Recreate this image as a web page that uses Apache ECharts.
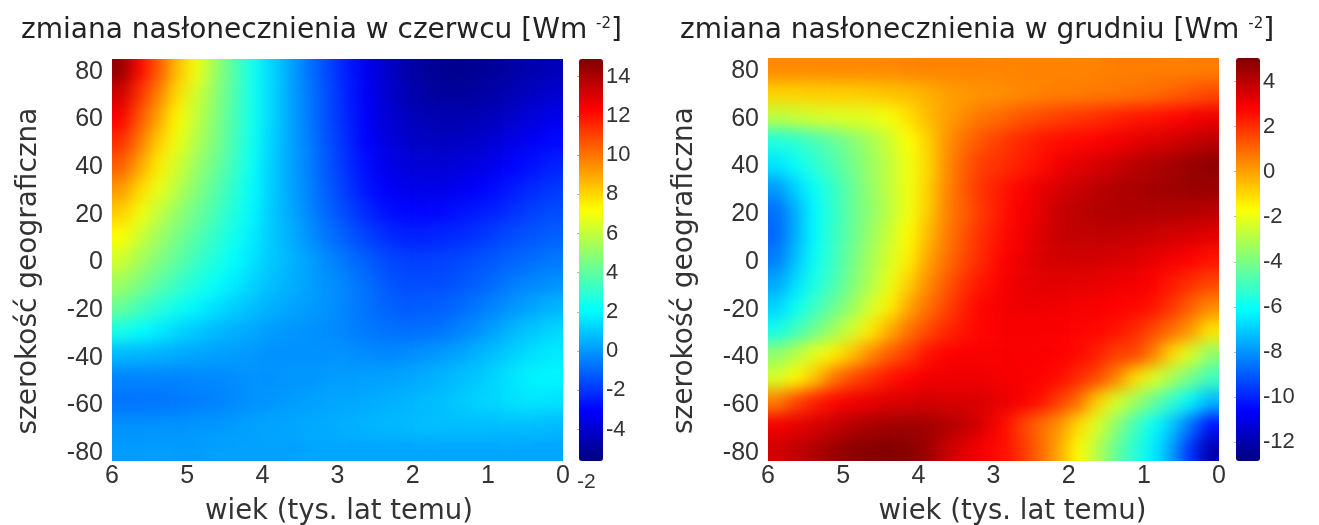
<!DOCTYPE html>
<html><head><meta charset="utf-8">
<style>html,body{margin:0;padding:0;background:#fff}#c{width:1319px;height:525px}</style>
<script src="https://cdn.jsdelivr.net/npm/echarts@6/dist/echarts.min.js"></script>
</head><body><div id="c"></div>
<script>
const titleJune = 'zmiana nasłonecznienia w czerwcu [Wm ';
const titleDec = 'zmiana nasłonecznienia w grudniu [Wm ';
const xName = 'wiek (tys. lat temu)';
const yName = 'szerokość geograficzna';
const ages = [5.875,5.625,5.375,5.125,4.875,4.625,4.375,4.125,3.875,3.625,3.375,3.125,2.875,2.625,2.375,2.125,1.875,1.625,1.375,1.125,0.875,0.625,0.375,0.125];
const lats = [80,70,60,50,40,30,20,10,0,-10,-20,-30,-40,-50,-60,-70,-80];
const latTicks = [80,60,40,20,0,-20,-40,-60,-80];
const juneTicks = [14,12,10,8,6,4,2,0,-2,-4];
const decTicks = [4,2,0,-2,-4,-6,-8,-10,-12];
const juneRange = [-5.6,14.9];
const decRange = [-12.85,5.05];
const jet = ['#00007f','#0000ff','#007fff','#00ffff','#7fff7f','#ffff00','#ff7f00','#ff0000','#7f0000'];
const june = [
[14.5,12.2,10.5,8.5,7,5.2,3.8,2.4,1.3,0.3,-0.7,-1.6,-2.5,-3.3,-4,-4.6,-5,-5.2,-5.3,-5.2,-5,-4.8,-4.6,-4.4],
[13.3,11.3,9.7,7.9,6.3,5,3.7,2.4,1.3,0.3,-0.6,-1.5,-2.4,-3.2,-3.9,-4.4,-4.8,-5,-5,-4.9,-4.7,-4.5,-4.2,-4],
[12.4,10.6,9,7.3,6,4.8,3.6,2.4,1.3,0.3,-0.6,-1.5,-2.3,-3.1,-3.8,-4.2,-4.5,-4.6,-4.6,-4.5,-4.3,-4,-3.7,-3.4],
[11.4,9.9,8.2,6.9,5.7,4.6,3.5,2.3,1.2,0.3,-0.5,-1.4,-2.2,-3,-3.6,-4,-4.2,-4.3,-4.2,-4.1,-3.8,-3.5,-3.2,-2.9],
[10.5,9,7.6,6.3,5.2,4.3,3.3,2.2,1.1,0.3,-0.5,-1.3,-2.1,-2.8,-3.4,-3.7,-3.9,-3.9,-3.8,-3.6,-3.3,-3,-2.7,-2.4],
[9.3,8,6.8,5.8,4.8,3.9,3,2,1.1,0.3,-0.4,-1.2,-1.9,-2.6,-3.1,-3.4,-3.5,-3.5,-3.3,-3.1,-2.8,-2.5,-2.2,-1.9],
[8.2,7,6,5.1,4.3,3.5,2.7,1.9,1,0.4,-0.3,-1,-1.6,-2.2,-2.7,-2.9,-3,-2.9,-2.7,-2.5,-2.3,-2,-1.7,-1.5],
[7.2,6.2,5.3,4.5,3.8,3.1,2.4,1.7,1,0.5,-0.1,-0.7,-1.2,-1.7,-2.1,-2.4,-2.4,-2.3,-2.2,-2,-1.7,-1.5,-1.3,-1.1],
[6.3,5.4,4.7,4,3.3,2.7,2.1,1.5,1,0.6,0.2,-0.3,-0.7,-1.1,-1.5,-1.7,-1.8,-1.7,-1.6,-1.4,-1.2,-1,-0.8,-0.6],
[5.3,4.6,3.9,3.3,2.7,2.2,1.7,1.2,0.8,0.5,0.2,-0.1,-0.4,-0.8,-1.2,-1.5,-1.5,-1.5,-1.3,-1.1,-0.8,-0.5,-0.3,-0.1],
[4.2,3.5,2.9,2.4,1.9,1.5,1.1,0.8,0.5,0.3,0.1,-0.1,-0.4,-0.7,-1,-1.2,-1.2,-1.1,-0.9,-0.6,-0.3,0,0.3,0.6],
[2.6,2.1,1.7,1.3,1,0.7,0.5,0.3,0.1,0,-0.1,-0.2,-0.4,-0.6,-0.7,-0.8,-0.8,-0.7,-0.4,-0.1,0.3,0.7,1,1.3],
[0.7,0.6,0.5,0.4,0.3,0.2,0.1,0,-0.1,-0.1,-0.1,-0.1,-0.1,-0.2,-0.3,-0.2,-0.1,0.1,0.3,0.6,0.9,1.2,1.5,1.7],
[-0.4,-0.4,-0.4,-0.4,-0.3,-0.3,-0.2,-0.1,-0.1,0,0,0.1,0.1,0.2,0.2,0.3,0.4,0.6,0.8,1,1.3,1.6,1.9,1.9],
[-0.7,-0.7,-0.7,-0.6,-0.5,-0.4,-0.3,-0.1,0,0.1,0.2,0.3,0.3,0.4,0.5,0.6,0.7,0.8,1,1.2,1.3,1.5,1.6,1.5],
[-0.1,-0.1,-0.1,-0.1,0,0,0.1,0.2,0.3,0.3,0.4,0.4,0.5,0.6,0.7,0.7,0.8,0.8,0.8,0.8,0.8,0.8,0.8,0.7],
[0.1,0.1,0.1,0.1,0.1,0.2,0.2,0.2,0.2,0.2,0.3,0.3,0.3,0.3,0.3,0.3,0.3,0.3,0.3,0.3,0.3,0.3,0.3,0.3]
];
const december = [
[0.4,0.4,0.4,0.4,0.4,0.4,0.4,0.5,0.5,0.5,0.5,0.5,0.5,0.5,0.5,0.5,0.5,0.5,0.6,0.6,0.6,0.6,0.6,0.6],
[-0.9,-0.9,-0.8,-0.8,-0.8,-0.7,-0.6,-0.5,-0.3,0,0.1,0.2,0.3,0.4,0.5,0.6,0.6,0.7,0.7,0.8,0.9,1.1,1.3,1.5],
[-2.8,-2.6,-2.4,-2.3,-2.2,-2.1,-1.8,-1.1,-0.5,0,0.4,0.8,1,1.3,1.5,1.7,1.9,2,2.2,2.4,2.5,2.7,2.9,3.1],
[-5.6,-5.3,-4.9,-4.4,-3.8,-3.2,-2.5,-1.7,-0.9,0.2,0.9,1.4,1.8,2.1,2.4,2.6,2.7,2.8,3,3.2,3.4,3.6,3.8,4],
[-6.6,-6,-5.4,-4.8,-4.1,-3.4,-2.7,-1.9,-1,0.3,1.2,1.8,2,2.3,2.6,3,3.3,3.5,3.7,4,4.2,4.4,4.6,4.8],
[-7.9,-6.9,-6,-5.2,-4.3,-3.5,-2.7,-1.9,-0.9,0.4,1.3,2,2.4,2.8,3.2,3.5,3.8,4,4.2,4.3,4.4,4.5,4.6,4.6],
[-8.7,-7.5,-6.2,-5.3,-4.3,-3.6,-2.8,-1.9,-0.8,0.5,1.2,1.9,2.5,2.9,3.3,3.8,4,4.1,4.2,4.2,4.2,4.2,4.1,4],
[-8.8,-7.5,-6.2,-5.2,-4.3,-3.4,-2.5,-1.6,-0.5,0.6,1.4,2.1,2.6,3,3.4,3.8,3.9,3.9,3.9,3.8,3.7,3.6,3.5,3.3],
[-8.4,-7.2,-6,-5.1,-4.1,-3.2,-2.3,-1.4,-0.1,0.8,1.6,2.2,2.8,3.1,3.5,3.6,3.6,3.6,3.5,3.4,3.2,3,2.8,2.5],
[-7.7,-6.7,-5.7,-4.9,-3.9,-3,-2,-0.8,0.3,1.2,2,2.5,2.9,3.2,3.3,3.3,3.3,3.2,3.1,3,2.8,2.4,2,1.6],
[-6.9,-6,-5.1,-4.3,-3.4,-2.4,-1.4,-0.1,0.8,1.6,2.3,2.8,3,3.1,3.1,3,3,2.9,2.8,2.7,2.5,1.9,1.1,0.4],
[-5.8,-5,-4.2,-3.3,-2.4,-1.3,-0.2,0.8,1.5,2.1,2.5,2.8,2.9,2.9,2.9,2.9,2.8,2.7,2.5,2.1,1.5,0.9,0.1,-1.2],
[-3.6,-2.9,-2.1,-1.4,-0.6,0.4,1.2,1.8,2.5,2.8,2.9,2.9,2.9,2.9,2.9,2.8,2.7,2.3,1.7,1.6,0.6,-1,-2.3,-3.6],
[-2.4,-1.6,-0.6,0.7,1.5,2,2.5,2.8,3,3.1,3.1,3.1,3,2.9,2.8,2.6,2.1,1.5,0.5,-1,-2.2,-3.2,-4.1,-5],
[0.6,1.6,2.3,2.7,3,3.2,3.4,3.5,3.6,3.5,3.5,3.4,3.2,2.9,2.5,1.7,0.9,-0.8,-2.3,-3.3,-4.3,-5.3,-6.3,-7.4],
[3,3.2,3.5,3.8,4.1,4.3,4.4,4.5,4.4,4.2,3.9,3.4,2.7,1.7,0.9,0.2,-1,-2.3,-3.6,-4.9,-6,-7.1,-8.6,-10.3],
[3.6,3.9,4.2,4.5,4.8,4.9,5,4.9,4.5,3.8,3.3,2.9,2.6,1.9,1,-0.2,-1.6,-2.9,-4.3,-5.4,-6.4,-7.8,-9.8,-12]
];
const INK = '#333';
// One extra band on each side lets the soft edge of the smoothing fall outside the clipped plot.
const padded = m => {
  const out = [], R = m.length, C = m[0].length;
  for (let j = -1; j <= R; j++) for (let i = -1; i <= C; i++) {
    const jj = Math.min(R-1, Math.max(0, j)), ii = Math.min(C-1, Math.max(0, i));
    out.push([i+1, j+1, m[jj][ii]]);
  }
  return out;
};
const bandNames = n => Array.from({length:n+2}, (_,i)=>String(i));
const plots = [{left:112,top:59,right:563,bottom:461},{left:768,top:58,right:1219,bottom:461}];
const bars = [{left:579,top:59,w:24,h:402},{left:1236,top:58,w:24,h:403}];
const xNameShift = [3,38];
const grids = [], xAxes = [], yAxes = [], series = [];
const sources = [june, december];
plots.forEach((p,k) => {
  const W = p.right-p.left, H = p.bottom-p.top, cw = W/ages.length, ch = H/lats.length;
  const g = grids.length;
  grids.push({left:p.left,top:p.top,width:W,height:H,outerBoundsMode:'none'});
  xAxes.push({type:'value',gridIndex:g,min:0,max:6,inverse:true,interval:1,position:'bottom',
    axisLine:{show:false},splitLine:{show:false},axisTick:{show:false},
    axisLabel:{color:INK,fontSize:25,fontFamily:'Liberation Sans',margin:3,hideOverlap:false},
    name:xName,nameLocation:'middle',nameGap:37,nameTextStyle:{color:INK,fontSize:27.5,fontFamily:'DejaVu Sans',padding:[0,0,0,xNameShift[k]]}});
  yAxes.push({type:'value',gridIndex:g,min:-83.4,max:85.4,position:'left',
    axisLine:{show:false},splitLine:{show:false},axisTick:{show:false},
    axisLabel:{color:INK,fontSize:25,fontFamily:'Liberation Sans',margin:9,customValues:latTicks},
    name:yName,nameLocation:'middle',nameGap:69,nameTextStyle:{color:INK,fontSize:28,fontFamily:'DejaVu Sans',padding:[0,22,0,0]}});
  const h = grids.length;
  grids.push({left:p.left-cw,top:p.top-ch,width:W+2*cw,height:H+2*ch,outerBoundsMode:'none'});
  xAxes.push({type:'category',gridIndex:h,data:bandNames(ages.length),show:false});
  yAxes.push({type:'category',gridIndex:h,data:bandNames(lats.length),inverse:true,show:false});
  series.push({type:'heatmap',xAxisIndex:xAxes.length-1,yAxisIndex:yAxes.length-1,data:padded(sources[k]),silent:true,zlevel:1,progressive:0,emphasis:{disabled:true},itemStyle:{borderWidth:0}});
});
[[juneRange,juneTicks],[decRange,decTicks]].forEach(([rng,tk],k) => {
  const g = grids.length, b = bars[k];
  grids.push({left:b.left,top:b.top,width:b.w,height:b.h,outerBoundsMode:'none'});
  xAxes.push({type:'value',gridIndex:g,min:0,max:1,show:false});
  yAxes.push({type:'value',gridIndex:g,min:rng[0],max:rng[1],position:'right',z:10,
    axisLine:{show:false},splitLine:{show:false},
    axisTick:{show:true,inside:true,length:2,lineStyle:{color:'rgba(40,40,40,0.35)'},customValues:tk},
    axisLabel:{color:INK,fontSize:22,fontFamily:'Liberation Sans',margin:3,customValues:tk}});
});
const option = {
  animation:false,backgroundColor:'#fff',
  title:[titleJune,titleDec].map((t,k)=>({
    text:'{a|'+t+'}{s|-2}{a|]}',left:k?680:21,top:17,padding:0,
    textStyle:{fontWeight:'normal',rich:{a:{fontFamily:'DejaVu Sans',fontSize:28,fontWeight:'normal',color:'#222'},s:{fontFamily:'DejaVu Sans',fontSize:15,fontWeight:'normal',color:'#222',verticalAlign:'top',padding:[0,0,10,0]}}}
  })),
  grid:grids,xAxis:xAxes,yAxis:yAxes,
  visualMap:[0,1].map(k=>({type:'continuous',min:[juneRange,decRange][k][0],max:[juneRange,decRange][k][1],seriesIndex:k,left:bars[k].left,top:bars[k].top,itemWidth:bars[k].w,itemHeight:bars[k].h,text:null,showLabel:false,calculable:false,realtime:false,inRange:{color:jet},padding:0,hoverLink:false})),
  graphic:[{type:'text',left:577,top:472,style:{text:'-2',fill:INK,font:'21px "Liberation Sans"'}}],
  series
};
const chart = echarts.init(document.getElementById('c'),null,{renderer:'canvas'});
chart.setOption(option);
function smooth(){
  const layer = document.querySelector('#c canvas[data-zr-dom-id="zr_1"]');
  if(!layer) return;
  const r = plots.map(p=>`M${p.left} ${p.top}H${p.right}V${p.bottom}H${p.left}Z`).join(' ');
  layer.style.filter = 'blur(8px)';
  layer.style.clipPath = `path('${r}')`;
}
smooth();
chart.on('finished',smooth);
</script></body></html>
